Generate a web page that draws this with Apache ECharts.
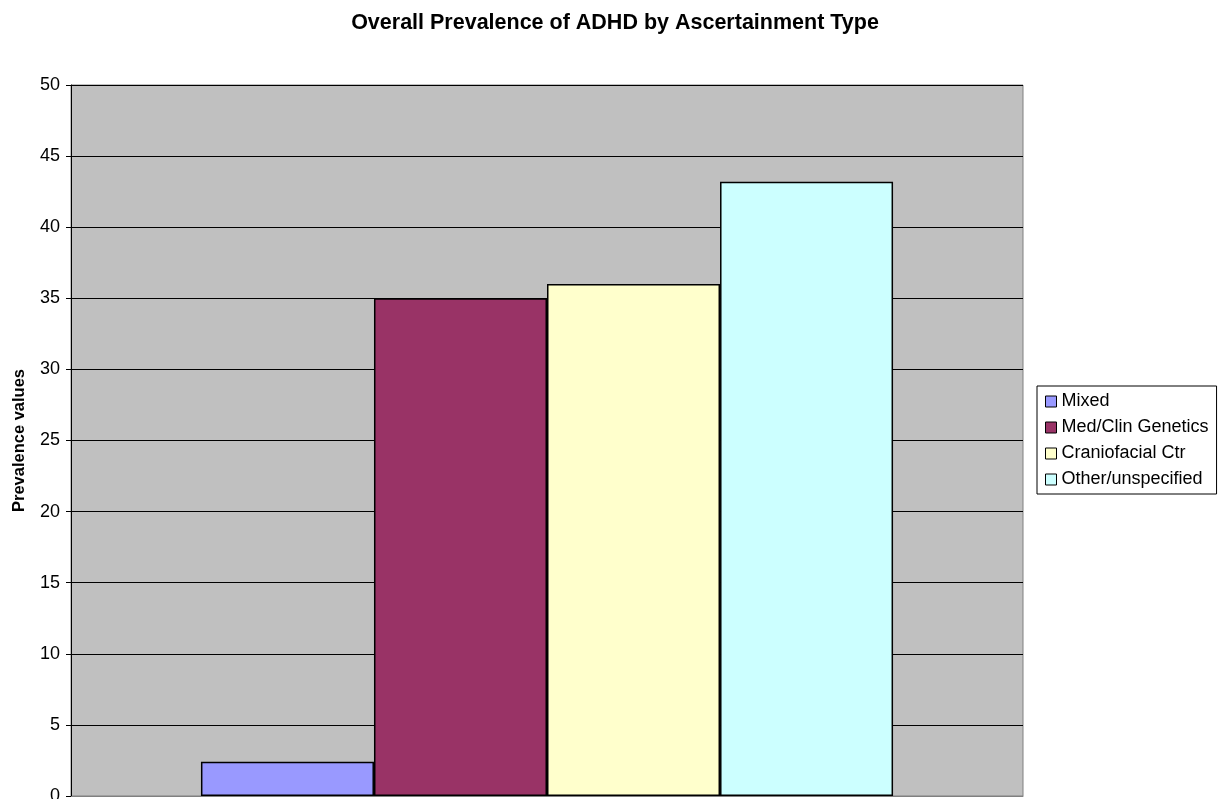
<!DOCTYPE html>
<html><head><meta charset="utf-8">
<script src="https://cdn.jsdelivr.net/npm/echarts@6/dist/echarts.min.js"></script>
<style>html,body{margin:0;padding:0;background:#fff}#c{width:1219px;height:799px}</style>
</head><body><div id="c"></div>
<script>
const categories = [''];
const seriesNames = ['Mixed', 'Med/Clin Genetics', 'Craniofacial Ctr', 'Other/unspecified'];
const seriesValues = [[2.4], [35.0], [36.0], [43.2]];
const seriesColors = ['#9999FF', '#993366', '#FFFFCC', '#CCFFFF'];
const yTicks = [0, 5, 10, 15, 20, 25, 30, 35, 40, 45, 50];

const chart = echarts.init(document.getElementById('c'));
chart.setOption({
  animation: false,
  title: {
    text: 'Overall Prevalence of ADHD by Ascertainment Type',
    left: 610, textAlign: 'center', top: 7,
    textStyle: { fontFamily: 'Liberation Sans', fontSize: 21.5, fontWeight: 'bold', color: '#000' }
  },
  legend: {
    orient: 'vertical', left: 1037, top: 386,
    data: seriesNames,
    icon: 'rect', itemWidth: 11, itemHeight: 11, itemGap: 5,
    padding: [5, 8, 4, 8],
    borderColor: '#000', borderWidth: 1,
    itemStyle: { borderColor: '#000', borderWidth: 1 },
    textStyle: { fontFamily: 'Liberation Sans', fontSize: 18, lineHeight: 21, color: '#000', padding: [0, 0, 0, 0] }
  },
  grid: { left: 71, right: 196, top: 85, bottom: 3, containLabel: false, outerBoundsMode: 'none',
    show: true, backgroundColor: '#C0C0C0', borderColor: '#808080', borderWidth: 1 },
  xAxis: {
    type: 'category', data: categories,
    axisLine: { show: true, lineStyle: { color: '#808080' } },
    axisTick: { show: false }, axisLabel: { show: false }
  },
  yAxis: {
    type: 'value', min: yTicks[0], max: yTicks[yTicks.length - 1], interval: 5,
    name: 'Prevalence values', nameLocation: 'middle', nameGap: 43,
    nameTextStyle: { fontFamily: 'Liberation Sans', fontSize: 16.5, fontWeight: 'bold', color: '#000' },
    axisLine: { show: true, lineStyle: { color: '#000' } },
    axisTick: { show: true, length: 5, lineStyle: { color: '#000' } },
    axisLabel: { fontFamily: 'Liberation Sans', fontSize: 18, color: '#000', margin: 11 },
    splitLine: { show: true, lineStyle: { color: '#000', width: 1 } }
  },
  series: seriesNames.map((n, i) => ({
    name: n, type: 'bar', data: seriesValues[i],
    barGap: '0%', barCategoryGap: '27.3%',
    itemStyle: { color: seriesColors[i], borderColor: '#000', borderWidth: 1.5 }
  }))
});
</script></body></html>
